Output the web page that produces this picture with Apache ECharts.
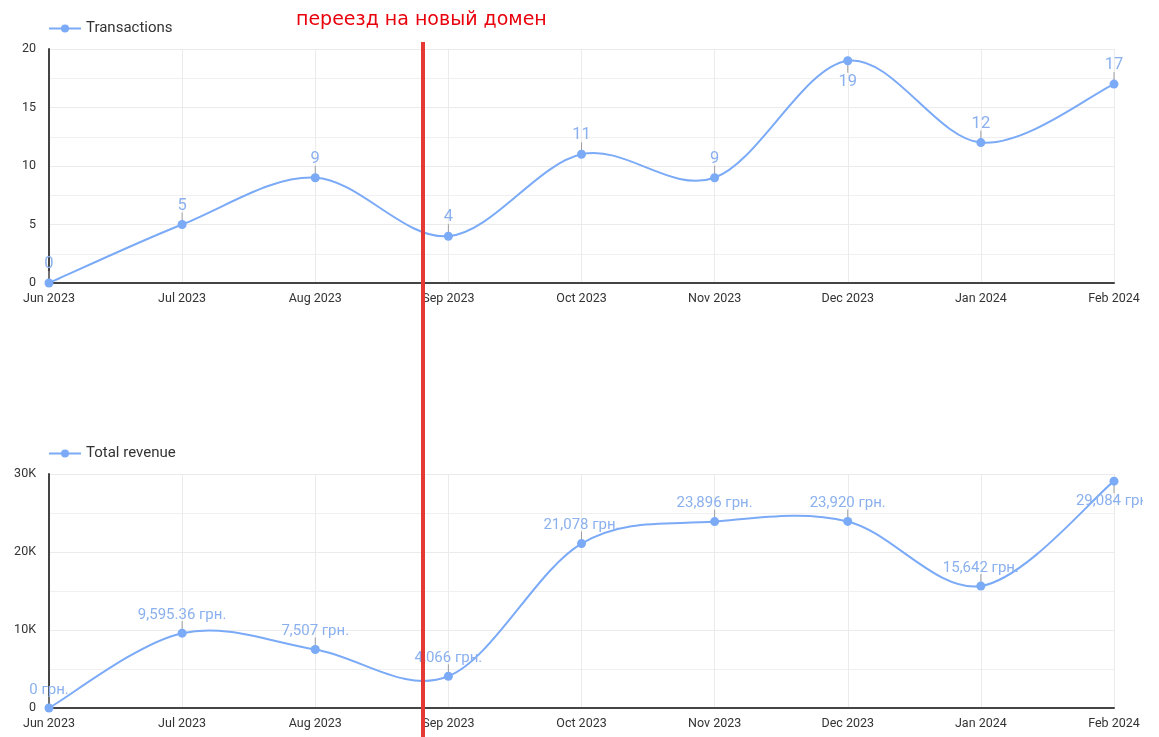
<!DOCTYPE html>
<html>
<head>
<meta charset="utf-8">
<script src="https://cdn.jsdelivr.net/npm/echarts@6/dist/echarts.min.js"></script>
<style>
html,body{margin:0;padding:0;background:#fff;}
#chart{width:1143px;height:737px;}
</style>
</head>
<body>
<div id="chart"></div>
<script>
const categories = ['Jun 2023','Jul 2023','Aug 2023','Sep 2023','Oct 2023','Nov 2023','Dec 2023','Jan 2024','Feb 2024'];
const transactions = [0, 5, 9, 4, 11, 9, 19, 12, 17];
const revenue = [0, 9595.36, 7507, 4066, 21078, 23896, 23920, 15642, 29084];
const labelBelow = [false, false, false, false, false, false, true, false, false];
const revenueLabelBelow = [false, false, false, false, false, false, false, false, true];
const annotationText = 'переезд на новый домен';

const FONT = 'Roboto, "Noto Sans", sans-serif';
const LINE = '#7baaf7';
const LABEL = '#8ab0ee';

function fmtRev(v){
  return v.toLocaleString('en-US', {maximumFractionDigits: 2}) + ' грн.';
}

function mkData(arr, below){
  return arr.map((v,i)=>({value:v, label: below[i] ? {position:'bottom', distance:8} : {position:'top', distance:6}}));
}

// Catmull-Rom spline segments + leader ticks, positioned through the axes
function splineRenderer(values, below){
  return function(params, api){
    const i = params.dataIndex;
    const n = values.length;
    const P = k => { const c = Math.max(0, Math.min(n-1, k)); return api.coord([c, values[c]]); };
    const children = [];
    const p1 = P(i);
    if (i < n-1){
      const p0 = P(i-1), p2 = P(i+1), p3 = P(i+2);
      children.push({
        type:'bezierCurve',
        shape:{x1:p1[0], y1:p1[1], x2:p2[0], y2:p2[1],
          cpx1:p1[0] + (p2[0]-p0[0])/6, cpy1:p1[1] + (p2[1]-p0[1])/6,
          cpx2:p2[0] - (p3[0]-p1[0])/6, cpy2:p2[1] - (p3[1]-p1[1])/6},
        style:{stroke:LINE, lineWidth:2, fill:null}
      });
    }
    const s = below[i] ? 1 : -1;
    children.push({
      type:'line',
      shape:{x1:p1[0], y1:p1[1] + s*4, x2:p1[0], y2:p1[1] + s*12},
      style:{stroke:'#9e9e9e', lineWidth:1}
    });
    return {type:'group', children};
  };
}

const axisCommon = {
  axisLine:{show:true, lineStyle:{color:'#444', width:2}},
  axisTick:{show:false}
};

const chart = echarts.init(document.getElementById('chart'));
const legendText = {fontSize:15, color:'#333', fontFamily:FONT};
const option = {
  animation:false,
  textStyle:{fontFamily:FONT},
  legend:[
    {data:['Transactions'], left:43, top:16, itemWidth:32, itemHeight:10, textStyle:legendText,
      lineStyle:{color:LINE, width:2, opacity:1}},
    {data:['Total revenue'], left:43, top:441, itemWidth:32, itemHeight:10, textStyle:legendText,
      lineStyle:{color:LINE, width:2, opacity:1}}
  ],
  grid:[
    {left:49, right:29, top:49, height:234},
    {left:49, right:29, top:474, height:234}
  ],
  xAxis:[0,1].map(g => Object.assign({}, axisCommon, {type:'category', gridIndex:g, data:categories, boundaryGap:false,
      axisLabel:{color:'#333', fontSize:12.5, fontFamily:FONT, margin:9},
      splitLine:{show:true, lineStyle:{color:'#ebebeb'}}})),
  yAxis:[
    Object.assign({}, axisCommon, {type:'value', gridIndex:0, min:0, max:20, interval:5,
      axisLabel:{color:'#333', fontSize:12.5, fontFamily:FONT, margin:13},
      splitLine:{show:true, lineStyle:{color:'#ebebeb'}},
      minorTick:{show:false, splitNumber:2},
      minorSplitLine:{show:true, lineStyle:{color:'#f0f0f0'}}}),
    Object.assign({}, axisCommon, {type:'value', gridIndex:1, min:0, max:30000, interval:10000,
      axisLabel:{color:'#333', fontSize:12.5, fontFamily:FONT, margin:13, formatter:v=> v===0 ? '0' : (v/1000)+'K'},
      splitLine:{show:true, lineStyle:{color:'#ebebeb'}},
      minorTick:{show:false, splitNumber:2},
      minorSplitLine:{show:true, lineStyle:{color:'#f0f0f0'}}})
  ],
  series:[
    {
      name:'tx-curve', type:'custom', xAxisIndex:0, yAxisIndex:0, z:2, silent:true,
      data: transactions.map((v,i)=>[i,v]),
      renderItem: splineRenderer(transactions, labelBelow)
    },
    {
      name:'rev-curve', type:'custom', xAxisIndex:1, yAxisIndex:1, z:2, silent:true,
      data: revenue.map((v,i)=>[i,v]),
      renderItem: splineRenderer(revenue, revenueLabelBelow)
    },
    {
      name:'Transactions', type:'line', xAxisIndex:0, yAxisIndex:0,
      data: mkData(transactions, labelBelow),
      symbol:'circle', symbolSize:9,
      itemStyle:{color:LINE}, lineStyle:{color:LINE, width:2, opacity:0},
      label:{show:true, color:LABEL, fontSize:16.5, fontFamily:FONT},
      z:3
    },
    {
      name:'Total revenue', type:'line', xAxisIndex:1, yAxisIndex:1,
      data: mkData(revenue, revenueLabelBelow),
      symbol:'circle', symbolSize:9,
      itemStyle:{color:LINE}, lineStyle:{color:LINE, width:2, opacity:0},
      label:{show:true, color:LABEL, fontSize:15, fontFamily:FONT,
        formatter:p=>fmtRev(p.value)},
      z:3
    }
  ],
  graphic:[
    {type:'text', left:296, top:11, z:10, style:{text:annotationText, fill:'#e8000b', font:'19px "DejaVu Sans", Verdana, sans-serif'}},
    {type:'rect', shape:{x:421, y:42, width:4, height:695}, z:10, style:{fill:'#e53935'}}
  ]
};
chart.setOption(option);
</script>
</body>
</html>
